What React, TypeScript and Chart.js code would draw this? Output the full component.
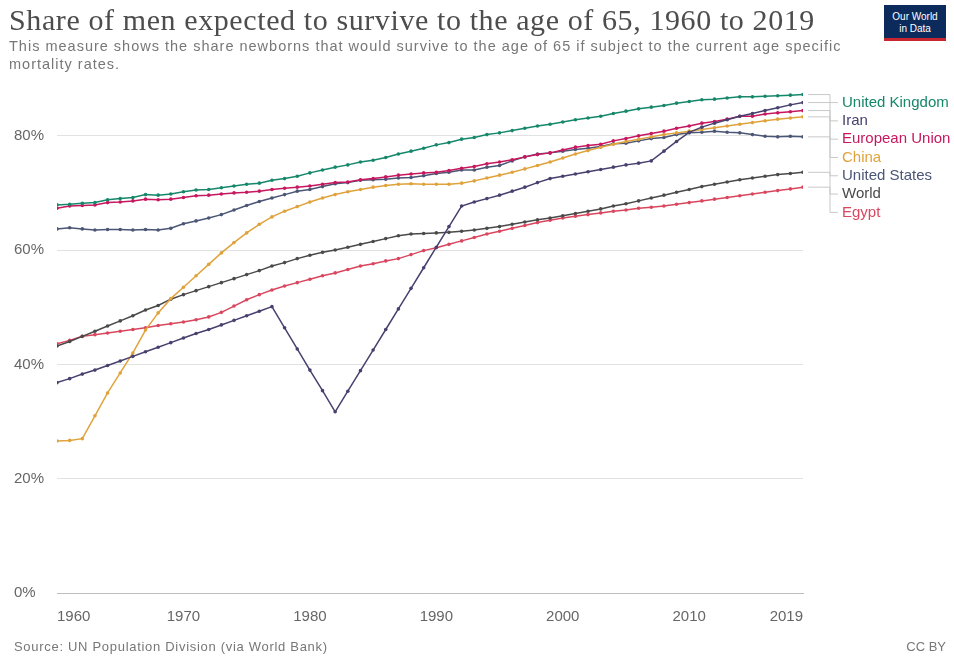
import React, { useEffect, useRef } from 'react';
import { Chart, registerables } from 'chart.js';

Chart.register(...registerables);

const years: number[] = Array.from({ length: 60 }, (_, i) => 1960 + i);
const xTicks = [1960, 1970, 1980, 1990, 2000, 2010, 2019];
const yTicks = [0, 20, 40, 60, 80];

const seriesNames = ['United Kingdom', 'Iran', 'European Union', 'China', 'United States', 'World', 'Egypt'];
const seriesColors = ['#15876a', '#46416e', '#c6175f', '#e0a33c', '#4b5675', '#4a4a4a', '#d9475f'];

const unitedKingdom = [
  67.9, 68.0, 68.2, 68.3, 68.8, 69.0, 69.2, 69.7, 69.6, 69.8,
  70.2, 70.5, 70.6, 70.9, 71.2, 71.5, 71.7, 72.2, 72.5, 72.9,
  73.5, 74.0, 74.5, 74.9, 75.4, 75.7, 76.2, 76.8, 77.3, 77.8,
  78.4, 78.8, 79.4, 79.7, 80.2, 80.5, 80.9, 81.3, 81.7, 82.0,
  82.4, 82.8, 83.1, 83.4, 83.9, 84.3, 84.7, 85.0, 85.3, 85.7,
  86.0, 86.3, 86.4, 86.6, 86.8, 86.8, 86.9, 87.0, 87.1, 87.2,
];
const iran = [
  36.8, 37.5, 38.3, 39.0, 39.8, 40.6, 41.4, 42.2, 43.0, 43.8,
  44.6, 45.4, 46.1, 46.9, 47.7, 48.5, 49.3, 50.1, 46.4, 42.7,
  39.0, 35.4, 31.7, 35.3, 38.9, 42.5, 46.1, 49.7, 53.3, 56.9,
  60.5, 64.1, 67.7, 68.4, 69.0, 69.6, 70.3, 71.0, 71.8, 72.5,
  72.9, 73.3, 73.7, 74.1, 74.5, 74.9, 75.2, 75.6, 77.3, 79.0,
  80.6, 81.5, 82.2, 82.8, 83.4, 83.9, 84.4, 84.9, 85.4, 85.8,
];
const europeanUnion = [
  67.3, 67.7, 67.8, 67.9, 68.3, 68.4, 68.6, 68.9, 68.8, 68.9,
  69.2, 69.5, 69.6, 69.8, 70.0, 70.1, 70.3, 70.6, 70.8, 71.0,
  71.2, 71.5, 71.8, 71.9, 72.3, 72.5, 72.8, 73.1, 73.3, 73.5,
  73.6, 73.9, 74.3, 74.6, 75.1, 75.4, 75.8, 76.3, 76.7, 77.0,
  77.5, 78.0, 78.3, 78.5, 79.1, 79.5, 80.0, 80.4, 80.8, 81.3,
  81.7, 82.2, 82.5, 82.9, 83.4, 83.4, 83.8, 84.0, 84.2, 84.4,
];
const china = [
  26.6, 26.7, 27.0, 31.0, 35.0, 38.5, 42.0, 46.0, 49.0, 51.5,
  53.5, 55.5, 57.5, 59.5, 61.3, 63.0, 64.5, 65.8, 66.8, 67.6,
  68.4, 69.1, 69.7, 70.2, 70.6, 71.0, 71.3, 71.5, 71.6, 71.5,
  71.5, 71.5, 71.7, 72.1, 72.6, 73.1, 73.6, 74.2, 74.8, 75.4,
  76.1, 76.8, 77.4, 78.0, 78.5, 79.0, 79.4, 79.8, 80.2, 80.5,
  80.8, 81.1, 81.4, 81.7, 82.0, 82.3, 82.6, 82.9, 83.1, 83.3,
];
const unitedStates = [
  63.7, 63.9, 63.7, 63.5, 63.6, 63.6, 63.5, 63.6, 63.5, 63.8,
  64.6, 65.1, 65.6, 66.2, 67.0, 67.8, 68.5, 69.1, 69.7, 70.3,
  70.6, 71.1, 71.6, 71.8, 72.2, 72.3, 72.4, 72.6, 72.7, 73.0,
  73.4, 73.6, 74.0, 74.0, 74.5, 74.8, 75.6, 76.3, 76.8, 77.0,
  77.3, 77.6, 77.8, 78.1, 78.6, 78.7, 79.1, 79.5, 79.7, 80.2,
  80.5, 80.6, 80.8, 80.6, 80.5, 80.2, 79.9, 79.8, 79.9, 79.8,
];
const world = [
  43.2, 44.0, 44.9, 45.8, 46.7, 47.6, 48.5, 49.5, 50.3, 51.4,
  52.2, 52.9, 53.6, 54.3, 55.0, 55.7, 56.4, 57.2, 57.8, 58.5,
  59.1, 59.6, 60.0, 60.5, 61.0, 61.5, 62.0, 62.5, 62.8, 62.9,
  63.0, 63.1, 63.3, 63.5, 63.8, 64.1, 64.5, 64.9, 65.3, 65.6,
  66.0, 66.4, 66.8, 67.2, 67.7, 68.1, 68.6, 69.1, 69.6, 70.1,
  70.6, 71.1, 71.5, 71.9, 72.3, 72.6, 72.9, 73.2, 73.4, 73.6,
];
const egypt = [
  43.6, 44.2, 44.9, 45.2, 45.5, 45.8, 46.1, 46.4, 46.8, 47.1,
  47.4, 47.8, 48.3, 49.1, 50.2, 51.3, 52.2, 53.0, 53.7, 54.3,
  54.9, 55.5, 56.0, 56.6, 57.2, 57.6, 58.1, 58.5, 59.2, 59.9,
  60.4, 61.0, 61.6, 62.2, 62.8, 63.3, 63.8, 64.3, 64.8, 65.2,
  65.6, 65.9, 66.2, 66.5, 66.8, 67.0, 67.3, 67.5, 67.7, 68.0,
  68.3, 68.6, 68.9, 69.2, 69.5, 69.8, 70.1, 70.4, 70.7, 71.0,
];

const seriesValues = [unitedKingdom, iran, europeanUnion, china, unitedStates, world, egypt];

const SANS = '"Liberation Sans", Arial, sans-serif';

const endLabels = {
  id: 'endLabels',
  afterDatasetsDraw(chart: any) {
    const ctx = chart.ctx as CanvasRenderingContext2D;
    const ends = chart.data.datasets.map((_: any, i: number) => {
      const m = chart.getDatasetMeta(i);
      const p = m.data[m.data.length - 1];
      return { x: p.x, y: p.y, i };
    });
    const order = [...ends].sort((a: any, b: any) => a.y - b.y);
    const labelX = 842;
    let prev = -Infinity;
    ctx.save();
    ctx.font = `15px ${SANS}`;
    ctx.textBaseline = 'middle';
    ctx.textAlign = 'left';
    order.forEach((e: any) => {
      const ly = Math.max(e.y + 8, prev + 18.3);
      prev = ly;
      const mid = e.x + 27;
      ctx.strokeStyle = '#c8c8c8';
      ctx.lineWidth = 1;
      ctx.beginPath();
      ctx.moveTo(e.x + 5, e.y);
      ctx.lineTo(mid, e.y);
      ctx.lineTo(mid, ly);
      ctx.lineTo(labelX - 4, ly);
      ctx.stroke();
      ctx.fillStyle = seriesColors[e.i];
      ctx.fillText(seriesNames[e.i], labelX, ly);
    });
    ctx.restore();
  },
};

function ChartView() {
  const ref = useRef<HTMLCanvasElement | null>(null);
  useEffect(() => {
    if (!ref.current) return;
    const chart = new Chart(ref.current, {
      type: 'line',
      data: {
        datasets: seriesNames.map((name, si) => ({
          label: name,
          data: seriesValues[si].map((v, i) => ({ x: years[i], y: v })),
          borderColor: seriesColors[si],
          backgroundColor: seriesColors[si],
          borderWidth: 1.5,
          pointRadius: 1.8,
          pointBorderWidth: 0,
          pointBackgroundColor: seriesColors[si],
          tension: 0,
        })),
      },
      options: {
        animation: false,
        responsive: false,
        maintainAspectRatio: false,
        layout: { padding: { left: 14, right: 151, top: 90, bottom: 0 } },
        plugins: { legend: { display: false }, tooltip: { enabled: false } },
        scales: {
          x: {
            type: 'linear',
            min: 1960,
            max: 2019,
            afterBuildTicks: (s: any) => {
              s.ticks = xTicks.map((v) => ({ value: v }));
            },
            afterFit: (s: any) => {
              s.height = 72;
            },
            grid: { display: false, drawTicks: false },
            border: { display: true, color: '#bdbdbd', width: 1 },
            ticks: {
              align: 'inner',
              padding: 15,
              color: '#666',
              font: { family: SANS, size: 15 },
              maxRotation: 0,
              autoSkip: false,
              callback: (v: any) => String(v),
            },
          },
          y: {
            type: 'linear',
            min: 0,
            max: 88,
            afterBuildTicks: (s: any) => {
              s.ticks = yTicks.map((v) => ({ value: v }));
            },
            afterFit: (s: any) => {
              s.width = 43;
            },
            grid: {
              drawTicks: false,
              color: '#e2e2e2',
              lineWidth: 1,
            },
            border: { display: false },
            ticks: {
              crossAlign: 'far',
              padding: 0,
              color: '#666',
              font: { family: SANS, size: 15 },
              callback: (v: any) => `${v}%`,
            },
          },
        },
      },
      plugins: [endLabels],
    });
    return () => chart.destroy();
  }, []);
  return <canvas ref={ref} width={954} height={665} style={{ position: 'absolute', left: 0, top: 0, width: 954, height: 665 }} />;
}

export default function App() {
  return (
    <div style={{ position: 'absolute', left: 0, top: 0, width: 954, height: 665, background: '#fff', overflow: 'hidden' }}>
      <ChartView />
      <div
        style={{
          position: 'absolute',
          left: 9,
          top: 2,
          fontFamily: '"Liberation Serif", "Times New Roman", serif',
          fontSize: 30,
          letterSpacing: 0.6,
          color: '#4d4d4d',
          whiteSpace: 'nowrap',
          lineHeight: '35px',
        }}
      >
        Share of men expected to survive to the age of 65, 1960 to 2019
      </div>
      <div
        style={{
          position: 'absolute',
          left: 9,
          top: 37,
          width: 870,
          fontFamily: SANS,
          fontSize: 14.5,
          letterSpacing: 1.0,
          color: '#777',
          lineHeight: '18px',
          whiteSpace: 'nowrap',
        }}
      >
        This measure shows the share newborns that would survive to the age of 65 if subject to the current age specific
        <br />
        mortality rates.
      </div>
      <div
        style={{
          position: 'absolute',
          left: 884,
          top: 5,
          width: 62,
          height: 36,
          background: '#0d2a5c',
          borderBottom: '3px solid #c8262e',
          color: '#fff',
          fontFamily: SANS,
          fontSize: 10,
          lineHeight: '12px',
          textAlign: 'center',
          paddingTop: 6,
          boxSizing: 'border-box',
        }}
      >
        Our World
        <br />
        in Data
      </div>
      <div
        style={{
          position: 'absolute',
          left: 14,
          top: 639,
          fontFamily: SANS,
          fontSize: 13,
          letterSpacing: 0.7,
          color: '#777',
          whiteSpace: 'nowrap',
        }}
      >
        Source: UN Population Division (via World Bank)
      </div>
      <div
        style={{
          position: 'absolute',
          right: 8,
          top: 639,
          fontFamily: SANS,
          fontSize: 13,
          color: '#777',
          whiteSpace: 'nowrap',
        }}
      >
        CC BY
      </div>
    </div>
  );
}
